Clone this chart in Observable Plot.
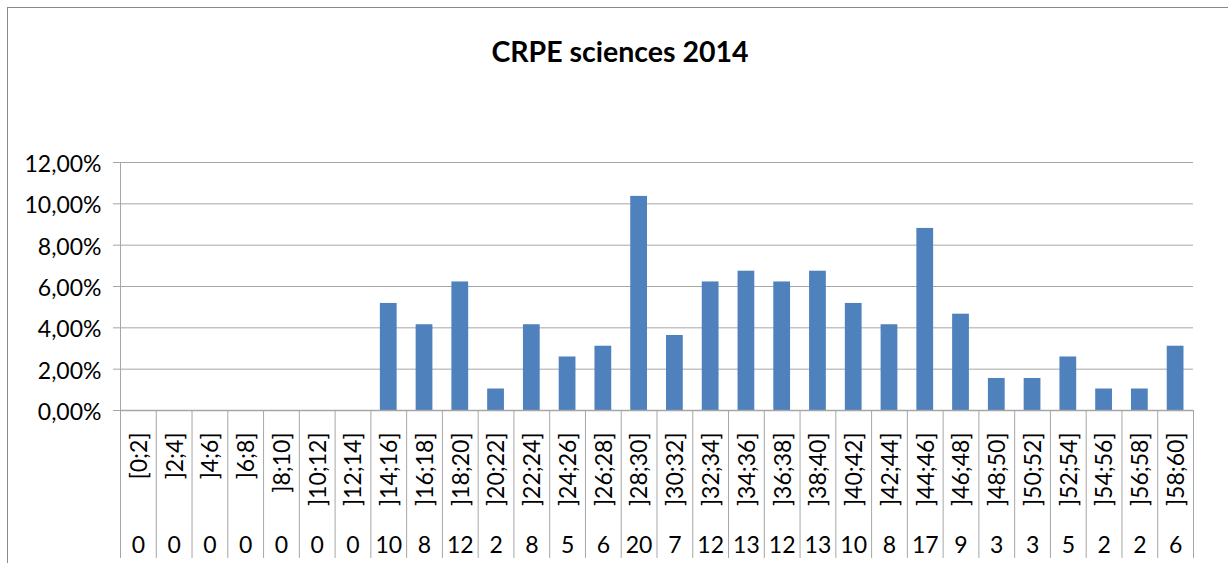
<!DOCTYPE html>
<html>
<head>
<meta charset="utf-8">
<script src="https://cdn.jsdelivr.net/npm/d3@7"></script>
<script src="https://cdn.jsdelivr.net/npm/@observablehq/plot@0.6"></script>
<style>
  html, body { margin: 0; padding: 0; background: #fff; }
  #wrap { position: relative; width: 1228px; height: 563px; overflow: hidden; }
  #border { position: absolute; left: 7px; top: 7px; width: 1300px; height: 700px;
            border-left: 1px solid #8a8a8a; border-top: 1px solid #8a8a8a; pointer-events: none; }
  #chart { position: absolute; left: 0; top: 0; }
</style>
</head>
<body>
<div id="wrap"><div id="chart"></div><div id="border"></div></div>
<script>
const title = "CRPE sciences 2014";
const categories = ["[0;2]","]2;4]","]4;6]","]6;8]","]8;10]","]10;12]","]12;14]","]14;16]","]16;18]","]18;20]",
  "]20;22]","]22;24]","]24;26]","]26;28]","]28;30]","]30;32]","]32;34]","]34;36]","]36;38]","]38;40]",
  "]40;42]","]42;44]","]44;46]","]46;48]","]48;50]","]50;52]","]52;54]","]54;56]","]56;58]","]58;60]"];
const counts = [0,0,0,0,0,0,0,10,8,12,2,8,5,6,20,7,12,13,12,13,10,8,17,9,3,3,5,2,2,6];
const shares = [0,0,0,0,0,0,0,0.0518,0.0415,0.0622,0.0104,0.0415,0.0259,0.0311,0.1036,0.0363,0.0622,0.0674,0.0622,0.0674,
  0.0518,0.0415,0.0881,0.0466,0.0155,0.0155,0.0259,0.0104,0.0104,0.0311];
const yTicks = [0, 0.02, 0.04, 0.06, 0.08, 0.10, 0.12];

const rows = categories.map((cat, i) => ({cat, i, n: counts[i], p: shares[i]}));
const edges = d3.range(categories.length + 1);
const tableDepth = -0.0716; // table area below the axis, in y units
const fmt = d => (d * 100).toFixed(2).replace(".", ",") + "%";
const grey = "#a6a6a6";

const chart = Plot.plot({
  width: 1228,
  height: 563,
  marginLeft: 120,
  marginRight: 35,
  marginTop: 162,
  marginBottom: 153,
  style: {fontFamily: "Lato, 'Open Sans', sans-serif", color: "#000", background: "transparent", overflow: "visible"},
  x: {type: "linear", domain: [0, categories.length], axis: null, label: null},
  y: {domain: [0, 0.12], axis: null, label: null},
  marks: [
    Plot.gridY(yTicks, {stroke: grey, strokeOpacity: 1, strokeWidth: 1}),
    Plot.axisY(yTicks, {tickFormat: () => "", tickSize: 7, stroke: grey, strokeOpacity: 1, label: null}),
    Plot.axisY(yTicks, {tickFormat: fmt, tickSize: 0, tickPadding: 19, fontSize: 23, fill: "#000", label: null, dy: 2}),
    Plot.ruleX([0], {y1: 0, y2: 0.12, stroke: grey, strokeWidth: 1}),
    Plot.ruleX(edges, {x: d => d, y1: 0, y2: tableDepth, stroke: grey, strokeWidth: 1}),
    Plot.rectY(rows, {x1: d => d.i, x2: d => d.i + 1, y: "p", insetLeft: 9.5, insetRight: 9.5, fill: "#4f81bd"}),
    Plot.ruleY([0], {stroke: grey, strokeWidth: 1.5}),
    Plot.text(rows, {x: d => d.i + 0.5, frameAnchor: "bottom", lineAnchor: "middle", text: "cat", rotate: -90, textAnchor: "end", dx: 1, dy: 22, fontSize: 23, fill: "#000"}),
    Plot.text(rows, {x: d => d.i + 0.5, frameAnchor: "bottom", lineAnchor: "middle", text: d => String(d.n), dy: 135, fontSize: 23, fill: "#000"}),
    Plot.text([title], {frameAnchor: "top", dx: -37, dy: -121, fontSize: 28.5, fontWeight: "bold", fill: "#000"})
  ]
});
document.getElementById("chart").appendChild(chart);
</script>
</body>
</html>
